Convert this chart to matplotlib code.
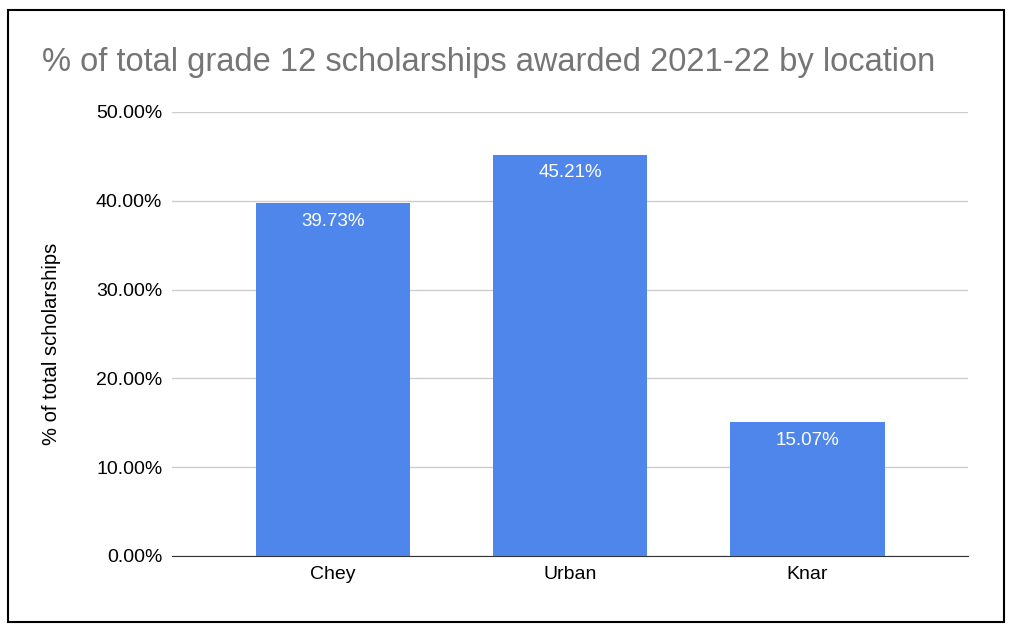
import matplotlib
matplotlib.use("Agg")
import matplotlib.pyplot as plt
from matplotlib.patches import Rectangle

categories = ["Chey", "Urban", "Knar"]
values = [39.73, 45.21, 15.07]
yticks = [0, 10, 20, 30, 40, 50]

plt.rcParams['font.family'] = ['Liberation Sans', 'DejaVu Sans']
fig = plt.figure(figsize=(10.14, 6.32), dpi=100)
fig.patches.append(Rectangle((8/1014, 10/632), 996/1014, 612/632, transform=fig.transFigure,
                             fill=False, edgecolor='black', linewidth=1.5))
ax = fig.add_axes([172/1014, 1-556/632, (968-172)/1014, (556-112)/632])
x = list(range(len(categories)))
ax.bar(x, values, width=0.65, color='#4f86ec', zorder=3)
for xi, v in zip(x, values):
    ax.text(xi, v - 1.1, f"{v:.2f}%", ha='center', va='top', color='white', fontsize=13.5)
ax.set_xlim(-0.678, 2.676)
ax.set_ylim(0, 50)
ax.set_yticks(yticks)
ax.set_yticklabels([f"{t:.2f}%" for t in yticks], fontsize=14)
ax.set_xticks(x)
ax.set_xticklabels(categories, fontsize=14)
ax.grid(axis='y', color='#cccccc', linewidth=1, zorder=0)
for s in ['top', 'right', 'left']:
    ax.spines[s].set_visible(False)
ax.spines['bottom'].set_color('#333333')
ax.tick_params(length=0, pad=7)
fig.text(52/1014, 1-344/632, "% of total scholarships", fontsize=14.5, rotation=90,
         ha='center', va='center')
fig.text(42/1014, 1-62/632, "% of total grade 12 scholarships awarded 2021-22 by location",
         fontsize=23.5, color='#757575', va='center', ha='left')
fig.savefig("out.png", dpi=100)
